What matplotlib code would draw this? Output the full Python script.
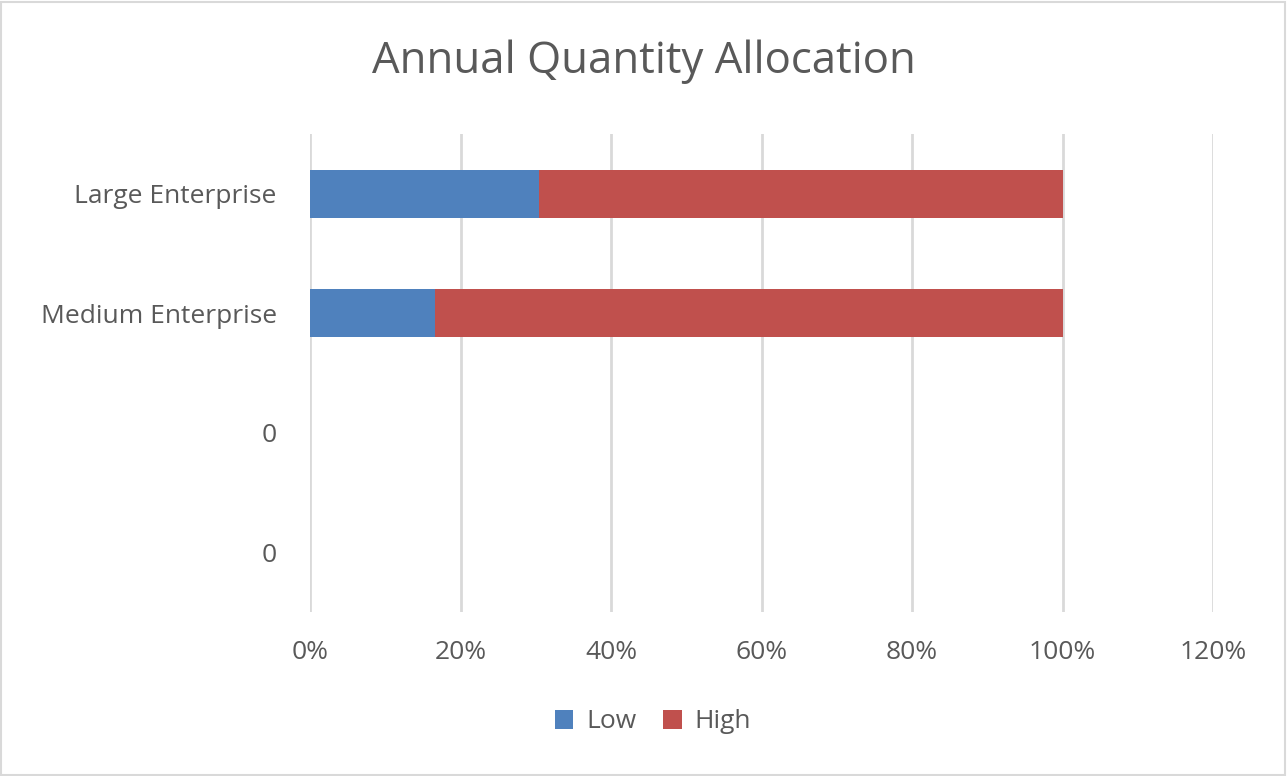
import matplotlib.pyplot as plt
from matplotlib.patches import Rectangle
from matplotlib.ticker import PercentFormatter

plt.rcParams['font.family'] = ['Open Sans', 'DejaVu Sans']

# categories bottom to top, as Excel draws them
categories = ['0', '0', 'Medium Enterprise', 'Large Enterprise']
low = [0, 0, 0.1656, 0.304]
high = [0, 0, 0.8344, 0.696]

text_color = '#595959'

fig = plt.figure(figsize=(12.88, 7.76), dpi=100)
ax = fig.add_axes([310 / 1288, 1 - 612 / 776, 903 / 1288, 478 / 776])

y = range(len(categories))
ax.barh(y, low, height=0.4, color='#4F81BD', label='Low')
ax.barh(y, high, left=low, height=0.4, color='#C0504D', label='High')

ax.set_xlim(0, 1.2)
ax.set_ylim(-0.5, len(categories) - 0.5)
ax.set_xticks([0, 0.2, 0.4, 0.6, 0.8, 1.0, 1.2])
ax.xaxis.set_major_formatter(PercentFormatter(1.0, decimals=0))
ax.set_yticks(list(y))
ax.set_yticklabels(categories)
ax.grid(axis='x', color='#D9D9D9', linewidth=2)
ax.set_axisbelow(True)
for s in ax.spines.values():
    s.set_visible(False)
ax.tick_params(length=0, labelsize=19, colors=text_color)
ax.tick_params(axis='x', pad=20)
ax.tick_params(axis='y', pad=24)

fig.text(0.5, 1 - 62 / 776, 'Annual Quantity Allocation', ha='center', va='center',
         fontsize=31.5, color=text_color)

fig.legend(loc='center', bbox_to_anchor=(653 / 1288, 1 - 722 / 776), ncol=2,
           frameon=False, fontsize=19, labelcolor=text_color,
           handlelength=0.7, handleheight=0.7, handletextpad=0.5, columnspacing=1.0)

fig.patches.append(Rectangle((0.001, 0.001), 0.997, 0.997, transform=fig.transFigure,
                             fill=False, edgecolor='#D9D9D9', linewidth=1.5))

fig.savefig('out.png', dpi=100)
